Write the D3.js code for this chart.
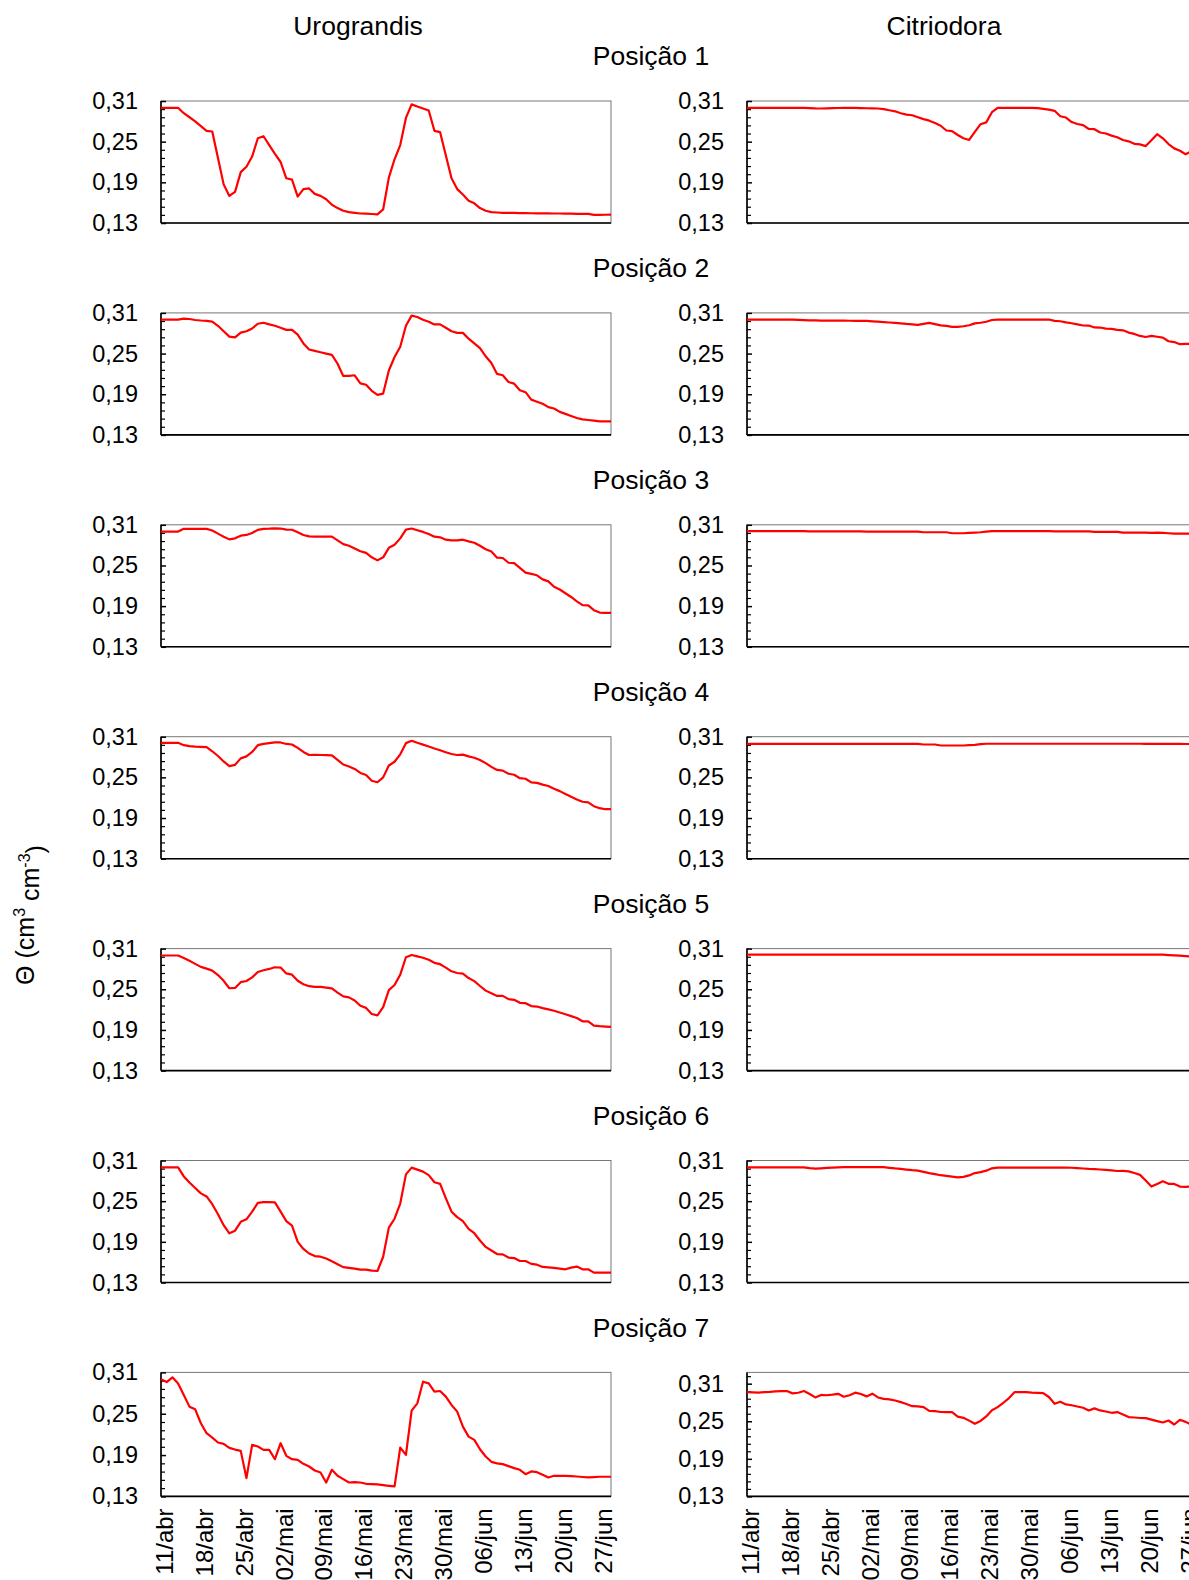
<!DOCTYPE html>
<html>
<head>
<meta charset="utf-8">
<script src="https://cdn.jsdelivr.net/npm/d3@7"></script>
<style>
  body { margin: 0; background: #fff; }
  svg text { font-family: "Liberation Sans", Arial, sans-serif; fill: #000; }
</style>
</head>
<body>
<svg id="chart"></svg>
<script>
// daily readings, 11/abr (index 0) to 29/jun (index 79)
const tickDays = [0, 7, 14, 21, 28, 35, 42, 49, 56, 63, 70, 77];
const tickLabels = ["11/abr", "18/abr", "25/abr", "02/mai", "09/mai", "16/mai", "23/mai", "30/mai", "06/jun", "13/jun", "20/jun", "27/jun"];
const yTicks = [0.13, 0.19, 0.25, 0.31];
const columns = ["Urograndis", "Citriodora"];
const positions = ["Posição 1", "Posição 2", "Posição 3", "Posição 4", "Posição 5", "Posição 6", "Posição 7"];

const uroP1 = [.300,.300,.300,.300,.292,.286,.280,.273,.266,.265,
  .226,.187,.170,.176,.205,.213,.228,.255,.258,.245,
  .232,.220,.196,.194,.169,.180,.181,.173,.170,.165,
  .157,.152,.148,.146,.145,.144,.1438,.1433,.1428,.150,
  .197,.224,.245,.285,.305,.302,.299,.296,.266,.264,
  .230,.196,.180,.172,.163,.159,.152,.148,.146,.1455,
  .145,.145,.1448,.1446,.1445,.1444,.1443,.1442,.1441,.144,
  .144,.1438,.1437,.1436,.1435,.1435,.142,.142,.1422,.1425];
const uroP2 = [.300,.300,.300,.300,.3015,.301,.2995,.2988,.2983,.297,
  .291,.283,.275,.274,.281,.283,.287,.294,.2955,.293,
  .291,.288,.285,.285,.278,.265,.256,.254,.252,.250,
  .248,.235,.217,.217,.218,.206,.204,.195,.189,.191,
  .225,.245,.260,.291,.306,.304,.300,.297,.293,.293,
  .288,.283,.2805,.2805,.272,.265,.258,.246,.236,.220,
  .218,.208,.2056,.196,.193,.182,.179,.176,.171,.169,
  .164,.161,.158,.155,.153,.152,.151,.150,.150,.150];
const uroP3 = [.300,.300,.300,.300,.304,.304,.304,.304,.304,.3015,
  .297,.2925,.2885,.290,.294,.295,.298,.3025,.304,.3043,
  .3048,.3045,.303,.3027,.299,.295,.293,.2925,.2925,.2925,
  .2925,.287,.2815,.279,.275,.271,.2685,.262,.2575,.262,
  .276,.2805,.290,.303,.3045,.302,.2995,.2965,.2925,.2915,
  .288,.287,.287,.288,.2855,.2835,.279,.274,.2705,.2615,
  .261,.254,.2535,.2465,.2395,.2375,.2355,.2295,.2265,.2185,
  .2145,.209,.2035,.197,.1915,.191,.184,.1805,.180,.180];
const uroP4 = [.301,.301,.301,.301,.2975,.296,.2953,.295,.2947,.2885,
  .2815,.2735,.2665,.2685,.278,.281,.2875,.2975,.2995,.3005,
  .3015,.3015,.2993,.2985,.2935,.2875,.283,.2833,.283,.2828,
  .2825,.2757,.269,.266,.2625,.2565,.2535,.245,.2428,.250,
  .2675,.273,.284,.3005,.304,.301,.2983,.2956,.2925,.290,
  .287,.2845,.283,.2835,.281,.279,.2755,.271,.2655,.261,
  .260,.2553,.2538,.2488,.248,.2425,.2418,.2393,.2372,.2333,
  .2297,.2255,.2215,.2175,.214,.213,.2075,.2045,.203,.203];
const uroP5 = [.2998,.2998,.2998,.2998,.296,.292,.2875,.283,.2805,.2775,
  .271,.2625,.2515,.252,.2605,.2622,.2675,.2755,.278,.280,
  .2825,.282,.2734,.2715,.2625,.2575,.2545,.2535,.2534,.2525,
  .2512,.245,.2395,.238,.2335,.2256,.2225,.2135,.2115,.2236,
  .2488,.2563,.2716,.2972,.3006,.2985,.2965,.2935,.289,.287,
  .282,.2765,.274,.273,.2665,.262,.2548,.248,.244,.2402,
  .2402,.2355,.2344,.230,.2295,.2252,.2245,.2222,.2203,.2183,
  .2157,.2131,.2104,.2075,.2027,.2027,.1963,.1955,.195,.1944];
const uroP6 = [.2998,.2998,.2998,.2998,.2865,.2775,.2695,.2615,.257,.2455,
  .2307,.2145,.2025,.2065,.2195,.2232,.2345,.2475,.2487,.2485,
  .2482,.2345,.2205,.214,.190,.1795,.1728,.169,.1681,.1653,
  .1612,.157,.1527,.1516,.1505,.149,.149,.1475,.147,.168,
  .211,.2241,.2465,.2895,.2995,.2965,.2936,.2885,.278,.2755,
  .2545,.2345,.2265,.2205,.209,.2027,.192,.1825,.1773,.172,
  .1715,.1668,.1661,.1617,.1617,.1575,.1563,.153,.1524,.1515,
  .1505,.1495,.152,.1535,.1495,.1495,.1446,.1446,.1446,.1446];
const uroP7 = [.300,.296,.3028,.294,.2772,.2603,.2564,.2362,.2217,.2154,
  .2082,.2062,.2004,.198,.1961,.1565,.2048,.2024,.1976,.1976,
  .184,.2072,.1889,.184,.1831,.1773,.1734,.1676,.1647,.1502,
  .1686,.1599,.1551,.1502,.1507,.1502,.1483,.1478,.1474,.1464,
  .1454,.1445,.2009,.1903,.2545,.2651,.2965,.2941,.282,.283,
  .2748,.2627,.2531,.2313,.2168,.212,.1985,.1879,.1802,.178,
  .1768,.174,.171,.1686,.1623,.1662,.1652,.1613,.1575,.1599,
  .1599,.1599,.1594,.1589,.1582,.1575,.158,.1585,.1585,.1585];

const citP1 = [.300,.300,.300,.300,.300,.300,.300,.300,.300,.300,
  .2998,.2994,.299,.2989,.2992,.2995,.2997,.2999,.300,.2998,
  .2996,.2993,.2991,.2989,.298,.2963,.2948,.292,.290,.289,
  .286,.2832,.281,.2775,.2735,.2665,.2655,.2598,.255,.2525,
  .2645,.2758,.2785,.2935,.300,.300,.300,.300,.300,.300,
  .300,.2995,.2985,.2972,.2955,.2875,.2856,.279,.276,.2743,
  .2687,.2684,.2635,.262,.2589,.2565,.2525,.2505,.2468,.246,
  .2435,.252,.261,.255,.2465,.2401,.2365,.2315,.236,.241];
const citP2 = [.3002,.3002,.3002,.3002,.3002,.3002,.3002,.3002,.300,.2997,
  .2994,.2991,.2989,.2987,.2986,.2986,.2985,.2985,.2984,.2983,
  .2983,.2982,.2976,.297,.2964,.2958,.2952,.2946,.2937,.293,
  .2923,.2938,.2952,.2935,.2915,.2908,.2895,.2893,.2903,.2918,
  .2945,.2955,.297,.2995,.3002,.3002,.3002,.3002,.3002,.3002,
  .3002,.3002,.3002,.3002,.2982,.2977,.296,.2947,.2931,.2914,
  .2913,.2885,.2884,.2869,.2865,.2849,.2843,.281,.279,.276,
  .2745,.276,.2748,.2736,.2682,.267,.2638,.2642,.2643,.2643];
const citP3 = [.3008,.3008,.3008,.3008,.3008,.3008,.3008,.3008,.3008,.3008,
  .3008,.3003,.3003,.3003,.3003,.3003,.3003,.3003,.3003,.3003,
  .3003,.300,.300,.300,.300,.300,.300,.300,.300,.300,
  .300,.299,.299,.299,.299,.299,.2975,.2975,.2975,.298,
  .2985,.299,.300,.3008,.3008,.3008,.3008,.3008,.3008,.3008,
  .3008,.3008,.3008,.3008,.3002,.3002,.3002,.3002,.3002,.3002,
  .3002,.2995,.2995,.2995,.2995,.2995,.2985,.2985,.2985,.2985,
  .2985,.298,.2985,.298,.2975,.297,.297,.297,.297,.297];
const citP4 = [.2995,.2995,.2995,.2995,.2995,.2995,.2995,.2995,.2995,.2995,
  .2995,.2995,.2995,.2995,.2995,.2995,.2995,.2995,.2995,.2995,
  .2995,.2993,.2993,.2993,.2993,.2993,.2993,.2993,.2993,.2993,
  .2993,.2985,.2985,.2985,.297,.297,.297,.297,.297,.2975,
  .298,.299,.2996,.2996,.2996,.2996,.2996,.2996,.2996,.2996,
  .2996,.2996,.2996,.2996,.2996,.2996,.2996,.2996,.2996,.2996,
  .2996,.2996,.2996,.2996,.2996,.2996,.2996,.2996,.2996,.2996,
  .2995,.2995,.2995,.2994,.2994,.2993,.2993,.2992,.2992,.2992];
const citP5 = [.301,.301,.301,.301,.301,.301,.301,.301,.301,.301,
  .301,.301,.301,.301,.301,.301,.301,.301,.301,.301,
  .301,.301,.301,.301,.301,.301,.301,.301,.301,.301,
  .301,.301,.301,.301,.301,.301,.301,.301,.301,.301,
  .301,.301,.301,.301,.301,.301,.301,.301,.301,.301,
  .301,.301,.301,.301,.301,.301,.301,.301,.301,.301,
  .301,.301,.301,.301,.301,.301,.301,.301,.301,.301,
  .301,.301,.301,.301,.3005,.300,.2995,.299,.298,.297];
const citP6 = [.2998,.2998,.2998,.2998,.2998,.2998,.2998,.2998,.2998,.2998,
  .2998,.2988,.298,.2985,.2991,.2996,.300,.3001,.3001,.3001,
  .3001,.3001,.3001,.3001,.3001,.2992,.2983,.2976,.2966,.2957,
  .295,.2932,.2914,.2898,.2883,.2873,.2862,.2852,.2859,.288,
  .2915,.2928,.295,.2985,.2996,.2996,.2996,.2996,.2996,.2996,
  .2996,.2996,.2996,.2996,.2996,.2996,.2996,.2993,.2988,.2982,
  .2976,.2972,.2967,.2962,.2955,.2945,.2947,.294,.2915,.2888,
  .2805,.2715,.2755,.2793,.2756,.2754,.2715,.2712,.2715,.2715];
const citP7 = [.2966,.296,.2956,.2966,.297,.2977,.298,.2982,.2945,.2955,
  .2982,.2935,.2881,.292,.2915,.2925,.2938,.2892,.2915,.2956,
  .2935,.2897,.294,.288,.2857,.2849,.2832,.2805,.2775,.274,
  .2738,.2726,.2665,.2662,.2648,.2646,.2646,.2575,.2555,.251,
  .2459,.2505,.2577,.2675,.2726,.2795,.287,.2966,.2966,.2966,
  .2956,.2953,.295,.2887,.2779,.2812,.2769,.2755,.2735,.2715,
  .2673,.2705,.2673,.2655,.2635,.2646,.2609,.2566,.256,.2552,
  .255,.2525,.2502,.248,.2512,.2448,.2523,.249,.2448,.245];

const uroSeries = [uroP1, uroP2, uroP3, uroP4, uroP5, uroP6, uroP7];
const citSeries = [citP1, citP2, citP3, citP4, citP5, citP6, citP7];

const width = 1189, height = 1580;
const colLeft = [161, 747];
const panelW = 450;
const rowTop = i => 101 + i * 211.9;
const panelH = i => (i === 6 ? 124 : 122);

const svg = d3.select("#chart").attr("width", width).attr("height", height);
const fmt = d => d3.format(".2f")(d).replace(".", ",");

const x = d3.scaleLinear().domain([0, 79]);

columns.forEach((name, c) => {
  svg.append("text")
    .attr("x", c === 0 ? 358 : 944).attr("y", 26)
    .attr("dy", "0.35em").attr("text-anchor", "middle")
    .attr("font-size", 26.5).text(name);
});

positions.forEach((p, i) => {
  svg.append("text")
    .attr("x", 651).attr("y", 56 + i * 211.9)
    .attr("dy", "0.35em").attr("text-anchor", "middle")
    .attr("font-size", 26.5).text(p);

  [uroSeries[i], citSeries[i]].forEach((data, c) => {
    const left = colLeft[c], top = rowTop(i), h = panelH(i);
    const yMax = (c === 1 && i === 6) ? 0.328 : 0.31;
    const xs = x.copy().range([left, left + panelW]);
    const y = d3.scaleLinear().domain([0.13, yMax]).range([top + h, top]);
    const g = svg.append("g");

    // frame: grey top/right, black left/bottom
    g.append("rect")
      .attr("x", left).attr("y", top).attr("width", panelW).attr("height", h)
      .attr("fill", "none").attr("stroke", "#777").attr("stroke-width", 1);

    const minor = d3.range(0.13, yMax + 1e-9, 0.012).filter(v => !yTicks.some(t => Math.abs(t - v) < 1e-6));
    g.append("g")
      .attr("transform", `translate(${left},0)`)
      .call(d3.axisRight(y).tickValues(minor).tickSize(4).tickFormat(""))
      .call(a => a.select(".domain").remove())
      .selectAll("line").attr("stroke", "#000").attr("stroke-width", 1.2);

    const ya = g.append("g")
      .attr("transform", `translate(${left},0)`)
      .call(d3.axisRight(y).tickValues(yTicks).tickSize(5).tickFormat(fmt));
    ya.select(".domain").remove();
    ya.selectAll("line").attr("stroke", "#000").attr("stroke-width", 1.5);
    ya.selectAll("text")
      .attr("x", -23).attr("text-anchor", "end")
      .attr("font-size", 23.5).attr("font-family", "Liberation Sans, Arial, sans-serif");

    g.append("line")
      .attr("x1", left).attr("x2", left).attr("y1", top).attr("y2", top + h)
      .attr("stroke", "#000").attr("stroke-width", 1.6);
    g.append("line")
      .attr("x1", left).attr("x2", left + panelW).attr("y1", top + h).attr("y2", top + h)
      .attr("stroke", "#000").attr("stroke-width", 1.6);

    g.append("path")
      .datum(data)
      .attr("fill", "none").attr("stroke", "#ff0000").attr("stroke-width", 2.2)
      .attr("stroke-linejoin", "round")
      .attr("d", d3.line().x((d, k) => xs(k)).y(d => y(d)));

    if (i === 6) {
      const xa = g.append("g")
        .attr("transform", `translate(0,${top + h})`)
        .call(d3.axisBottom(xs).tickValues(tickDays).tickSize(0)
          .tickFormat((d, k) => tickLabels[k]));
      xa.select(".domain").remove();
      xa.selectAll("text")
        .attr("transform", "rotate(-90)")
        .attr("text-anchor", "end")
        .attr("x", -12).attr("y", 3).attr("dy", "0.35em").attr("dx", 0)
        .attr("font-size", 24).attr("font-family", "Liberation Sans, Arial, sans-serif");
    }
  });
});

// y axis title
const yt = svg.append("text")
  .attr("transform", "translate(25,915) rotate(-90)")
  .attr("text-anchor", "middle").attr("dy", "0.35em")
  .attr("font-size", 25);
yt.append("tspan").text("Θ (cm");
yt.append("tspan").attr("font-size", 16).attr("dy", "-0.55em").text("3");
yt.append("tspan").attr("dy", "0.55em").text(" cm");
yt.append("tspan").attr("font-size", 16).attr("dy", "-0.55em").text("-3");
yt.append("tspan").attr("dy", "0.55em").text(")");
</script>
</body>
</html>
